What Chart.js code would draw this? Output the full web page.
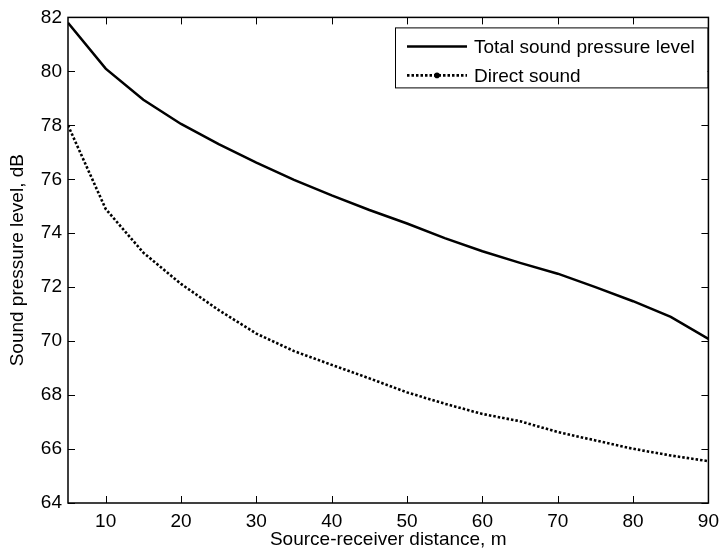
<!DOCTYPE html>
<html>
<head>
<meta charset="UTF-8" />
<title>Sound pressure level against distance</title>
<style>
  html, body { margin: 0; padding: 0; background: #ffffff; }
  #chartId { display: block; }
</style>
</head>
<body>
<canvas id="chartId" width="726" height="553"></canvas>
<script src="https://cdn.jsdelivr.net/npm/chart.js@4/dist/chart.umd.min.js"></script>
<script>
// values
var distances = [5, 10, 15, 20, 25, 30, 35, 40, 45, 50, 55, 60, 65, 70, 75, 80, 85, 90];
var totalLevel = [81.8, 80.1, 78.95, 78.05, 77.3, 76.62, 75.98, 75.4, 74.86, 74.36, 73.82, 73.33, 72.9, 72.5, 72.0, 71.48, 70.9, 70.08];
var directLevel = [78.0, 74.9, 73.28, 72.12, 71.15, 70.28, 69.63, 69.12, 68.62, 68.1, 67.68, 67.3, 67.03, 66.63, 66.32, 66.01, 65.76, 65.55];
var xTicks = [10, 20, 30, 40, 50, 60, 70, 80, 90];
var yTicks = [64, 66, 68, 70, 72, 74, 76, 78, 80, 82];
var seriesNames = ['Total sound pressure level', 'Direct sound'];

var fontFamily = '"Liberation Sans", Arial, Helvetica, sans-serif';
var fontSize = 19;
var dotDash = [2.5, 2];

function toPoints(ys) {
    return distances.map(function (d, i) { return { x: d, y: ys[i] }; });
}

// matlab style box, ticks pointing inwards on all four sides
var boxPlugin = {
    id: 'matlabBox',
    afterDatasetsDraw: function (chart) {
        var ctx = chart.ctx, a = chart.chartArea;
        var xs = chart.scales.x, ys = chart.scales.y;
        var len = 7;
        ctx.save();
        ctx.strokeStyle = '#000';
        ctx.lineWidth = 1;
        ctx.beginPath();
        xs.ticks.forEach(function (t) {
            var px = Math.round(xs.getPixelForValue(t.value)) + 0.5;
            ctx.moveTo(px, a.bottom); ctx.lineTo(px, a.bottom - len);
            ctx.moveTo(px, a.top); ctx.lineTo(px, a.top + len);
        });
        ys.ticks.forEach(function (t) {
            var py = Math.round(ys.getPixelForValue(t.value)) + 0.5;
            ctx.moveTo(a.left, py); ctx.lineTo(a.left + len, py);
            ctx.moveTo(a.right, py); ctx.lineTo(a.right - len, py);
        });
        ctx.stroke();
        ctx.lineWidth = 1.5;
        ctx.strokeRect(a.left, a.top, a.right - a.left, a.bottom - a.top);
        ctx.restore();
    }
};

// legend box in the top right corner
var legendPlugin = {
    id: 'boxLegend',
    afterDraw: function (chart) {
        var ctx = chart.ctx, a = chart.chartArea;
        var left = a.left + 327, top = a.top + 10;
        var right = a.right - 1, bottom = a.top + 70;
        ctx.save();
        ctx.fillStyle = '#fff';
        ctx.fillRect(left, top, right - left, bottom - top);
        ctx.strokeStyle = '#000';
        ctx.lineWidth = 1;
        ctx.strokeRect(left + 0.5, top + 0.5, right - left, bottom - top);
        ctx.font = fontSize + 'px ' + fontFamily;
        ctx.textBaseline = 'middle';
        ctx.fillStyle = '#000';
        chart.data.datasets.forEach(function (ds, i) {
            var y = top + 19 + i * 29;
            ctx.beginPath();
            ctx.lineWidth = ds.borderWidth;
            ctx.setLineDash(ds.borderDash || []);
            ctx.moveTo(left + 12, y);
            ctx.lineTo(left + 72, y);
            ctx.stroke();
            ctx.setLineDash([]);
            if (ds.borderDash) {
                ctx.beginPath();
                ctx.arc(left + 42, y, 2.8, 0, Math.PI * 2);
                ctx.fill();
            }
            ctx.fillText(ds.label, left + 79, y + 1);
        });
        ctx.restore();
    }
};

var chrt = document.getElementById('chartId').getContext('2d');
var chartId = new Chart(chrt, {
    type: 'line',
    data: {
        datasets: [{
            label: seriesNames[0],
            data: toPoints(totalLevel),
            borderColor: '#000',
            borderWidth: 2.5,
            pointRadius: 0,
            tension: 0,
            fill: false
        }, {
            label: seriesNames[1],
            data: toPoints(directLevel),
            borderColor: '#000',
            borderWidth: 2.6,
            borderDash: dotDash,
            borderCapStyle: 'butt',
            pointRadius: 0,
            tension: 0,
            fill: false
        }]
    },
    options: {
        responsive: false,
        animation: false,
        devicePixelRatio: 1,
        layout: { padding: { left: 6, top: 14, right: 14, bottom: 2 } },
        plugins: {
            legend: { display: false },
            tooltip: { enabled: false }
        },
        scales: {
            x: {
                type: 'linear',
                min: 5,
                max: 90,
                grid: { display: false, drawTicks: false },
                border: { display: false },
                afterBuildTicks: function (scale) {
                    scale.ticks = xTicks.map(function (v) { return { value: v }; });
                },
                afterFit: function (scale) { scale.height = 48; },
                ticks: {
                    color: '#000',
                    padding: 7,
                    maxRotation: 0,
                    font: { family: fontFamily, size: fontSize }
                },
                title: {
                    display: true,
                    text: 'Source-receiver distance, m',
                    color: '#000',
                    padding: 0,
                    font: { family: fontFamily, size: fontSize }
                }
            },
            y: {
                min: yTicks[0],
                max: yTicks[yTicks.length - 1],
                grid: { display: false, drawTicks: false },
                border: { display: false },
                afterBuildTicks: function (scale) {
                    scale.ticks = yTicks.map(function (v) { return { value: v }; });
                },
                afterFit: function (scale) { scale.width = 62; },
                ticks: {
                    color: '#000',
                    padding: 6,
                    font: { family: fontFamily, size: fontSize }
                },
                title: {
                    display: true,
                    text: 'Sound pressure level, dB',
                    color: '#000',
                    padding: 0,
                    font: { family: fontFamily, size: fontSize }
                }
            }
        }
    },
    plugins: [boxPlugin, legendPlugin]
});
</script>
</body>
</html>
